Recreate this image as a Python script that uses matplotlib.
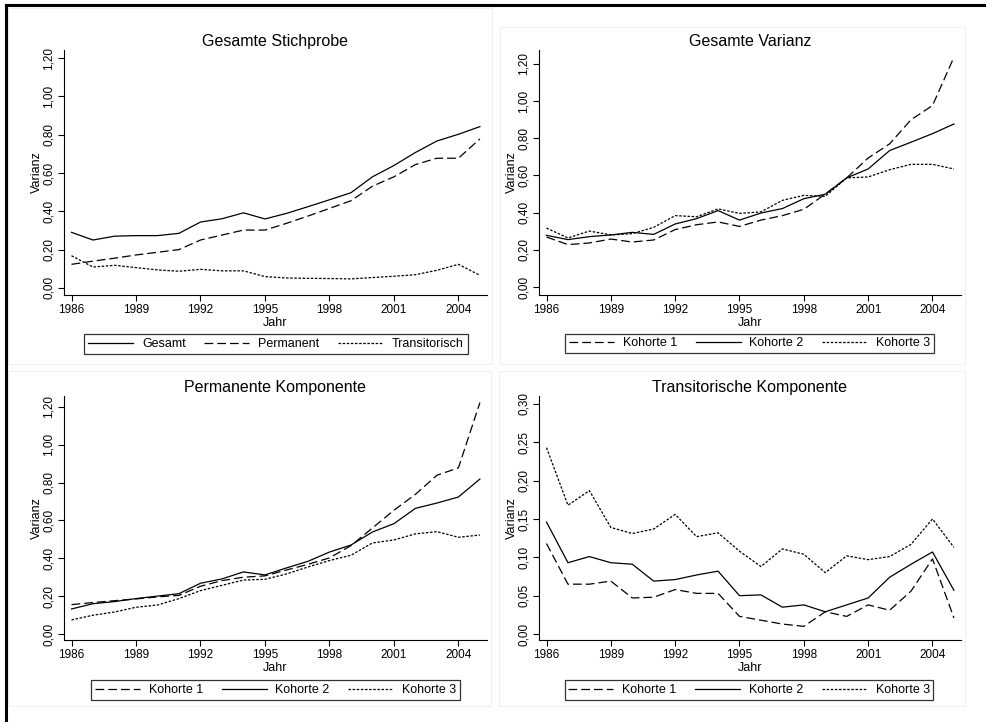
import matplotlib
matplotlib.use("Agg")
import matplotlib.pyplot as plt
from matplotlib.lines import Line2D
from matplotlib.patches import Rectangle
from matplotlib.ticker import FuncFormatter

plt.rcParams["font.family"] = ["Liberation Sans", "DejaVu Sans"]

W, H = 986, 722

years = list(range(1986, 2006))
year_ticks = [1986, 1989, 1992, 1995, 1998, 2001, 2004]

# Gesamte Stichprobe
gesamt = [0.290, 0.250, 0.270, 0.273, 0.273, 0.285, 0.344, 0.361, 0.392, 0.360,
          0.389, 0.424, 0.460, 0.497, 0.580, 0.639, 0.707, 0.767, 0.802, 0.842]
permanent = [0.123, 0.140, 0.155, 0.172, 0.186, 0.200, 0.250, 0.276, 0.302, 0.302,
             0.337, 0.375, 0.415, 0.455, 0.531, 0.580, 0.644, 0.677, 0.677, 0.778]
transitorisch = [0.168, 0.109, 0.118, 0.106, 0.094, 0.087, 0.097, 0.089, 0.089, 0.059,
                 0.052, 0.050, 0.049, 0.047, 0.054, 0.061, 0.069, 0.092, 0.123, 0.066]

# Gesamte Varianz nach Kohorte
var_k1 = [0.269, 0.228, 0.237, 0.258, 0.242, 0.253, 0.309, 0.335, 0.350, 0.326,
          0.360, 0.384, 0.418, 0.500, 0.587, 0.694, 0.770, 0.900, 0.976, 1.236]
var_k2 = [0.278, 0.255, 0.271, 0.280, 0.294, 0.283, 0.339, 0.368, 0.411, 0.360,
          0.398, 0.422, 0.475, 0.499, 0.587, 0.635, 0.734, 0.779, 0.825, 0.877]
var_k3 = [0.317, 0.264, 0.301, 0.280, 0.287, 0.321, 0.384, 0.378, 0.420, 0.396,
          0.404, 0.466, 0.493, 0.488, 0.587, 0.592, 0.631, 0.660, 0.660, 0.635]

# Permanente Komponente nach Kohorte
perm_k1 = [0.155, 0.166, 0.176, 0.185, 0.196, 0.204, 0.252, 0.282, 0.300, 0.307,
           0.338, 0.368, 0.402, 0.467, 0.560, 0.654, 0.738, 0.839, 0.878, 1.223]
perm_k2 = [0.132, 0.160, 0.171, 0.187, 0.200, 0.213, 0.268, 0.291, 0.328, 0.312,
           0.349, 0.384, 0.433, 0.470, 0.539, 0.583, 0.664, 0.692, 0.724, 0.819]
perm_k3 = [0.074, 0.099, 0.116, 0.141, 0.153, 0.187, 0.229, 0.257, 0.285, 0.289,
           0.317, 0.354, 0.388, 0.416, 0.481, 0.497, 0.529, 0.541, 0.511, 0.523]

# Transitorische Komponente nach Kohorte
trans_k1 = [0.118, 0.065, 0.065, 0.069, 0.047, 0.048, 0.058, 0.053, 0.053, 0.023,
            0.018, 0.013, 0.010, 0.029, 0.023, 0.038, 0.031, 0.056, 0.098, 0.021]
trans_k2 = [0.146, 0.093, 0.101, 0.093, 0.091, 0.069, 0.071, 0.077, 0.082, 0.050,
            0.051, 0.035, 0.038, 0.029, 0.038, 0.047, 0.074, 0.091, 0.107, 0.057]
trans_k3 = [0.243, 0.168, 0.187, 0.139, 0.131, 0.137, 0.156, 0.127, 0.132, 0.108,
            0.088, 0.111, 0.104, 0.080, 0.102, 0.097, 0.101, 0.117, 0.150, 0.113]

SOLID = "-"
DASHED = (0, (7, 3.2))
DOTTED = (0, (2, 1.3))


def px_axes(fig, left, top, right, bottom):
    return fig.add_axes([left / W, 1 - bottom / H, (right - left) / W, (bottom - top) / H])


def style_axes(ax, ylim, yticks, title):
    ax.set_xlim(1985.65, 2005.33)
    ax.set_ylim(*ylim)
    ax.set_xticks(year_ticks)
    ax.set_yticks(yticks)
    ax.yaxis.set_major_formatter(FuncFormatter(lambda v, _: f"{v:.2f}".replace(".", ",")))
    for side in ("top", "right"):
        ax.spines[side].set_visible(False)
    for side in ("left", "bottom"):
        ax.spines[side].set_linewidth(0.8)
    ax.tick_params(direction="out", length=4.5, width=0.8, labelsize=8.5, pad=2.0)
    for lab in ax.get_yticklabels():
        lab.set_rotation(90)
        lab.set_va("center")
    ax.set_xlabel("Jahr", fontsize=9, labelpad=0.5)
    ax.set_ylabel("Varianz", fontsize=9, labelpad=0)
    ax.set_title(title, fontsize=11.5, pad=3)


def add_legend(ax, fig, cx, cy):
    leg = ax.legend(
        loc="center",
        bbox_to_anchor=(cx / W, 1 - cy / H),
        bbox_transform=fig.transFigure,
        ncol=3,
        fontsize=9,
        handlelength=3.6,
        handletextpad=0.7,
        columnspacing=1.5,
        borderpad=0.3,
        fancybox=False,
        framealpha=1,
        edgecolor="#333333",
    )
    leg.get_frame().set_linewidth(0.9)


def main() -> None:
    fig = plt.figure(figsize=(W / 100, H / 100), dpi=100)

    # faint panel frames
    for (l, t, r, b) in [(8, 8, 492, 364), (500, 27, 965, 364), (8, 371, 491, 706), (499, 371, 965, 706)]:
        fig.add_artist(Rectangle((l / W, 1 - b / H), (r - l) / W, (b - t) / H,
                                 transform=fig.transFigure, fill=False,
                                 edgecolor="#f0f0f0", linewidth=0.8))

    lw = 0.9
    ticks_big = [0, 0.2, 0.4, 0.6, 0.8, 1.0, 1.2]

    ax1 = px_axes(fig, 64, 50, 487, 295)
    ax1.plot(years, gesamt, color="black", lw=lw, linestyle=SOLID, label="Gesamt")
    ax1.plot(years, permanent, color="black", lw=lw, linestyle=DASHED, label="Permanent")
    ax1.plot(years, transitorisch, color="black", lw=lw, linestyle=DOTTED, label="Transitorisch")
    style_axes(ax1, (-0.037, 1.242), ticks_big, "Gesamte Stichprobe")
    add_legend(ax1, fig, 276, 344)

    ax2 = px_axes(fig, 539, 50, 961, 295)
    ax2.plot(years, var_k1, color="black", lw=lw, linestyle=DASHED, label="Kohorte 1")
    ax2.plot(years, var_k2, color="black", lw=lw, linestyle=SOLID, label="Kohorte 2")
    ax2.plot(years, var_k3, color="black", lw=lw, linestyle=DOTTED, label="Kohorte 3")
    style_axes(ax2, (-0.043, 1.275), ticks_big, "Gesamte Varianz")
    add_legend(ax2, fig, 749.5, 343.5)

    ax3 = px_axes(fig, 64, 396, 487, 640)
    ax3.plot(years, perm_k1, color="black", lw=lw, linestyle=DASHED, label="Kohorte 1")
    ax3.plot(years, perm_k2, color="black", lw=lw, linestyle=SOLID, label="Kohorte 2")
    ax3.plot(years, perm_k3, color="black", lw=lw, linestyle=DOTTED, label="Kohorte 3")
    style_axes(ax3, (-0.032, 1.258), ticks_big, "Permanente Komponente")
    add_legend(ax3, fig, 275.5, 690)

    ax4 = px_axes(fig, 539, 396, 961, 640)
    ax4.plot(years, trans_k1, color="black", lw=lw, linestyle=DASHED, label="Kohorte 1")
    ax4.plot(years, trans_k2, color="black", lw=lw, linestyle=SOLID, label="Kohorte 2")
    ax4.plot(years, trans_k3, color="black", lw=lw, linestyle=DOTTED, label="Kohorte 3")
    style_axes(ax4, (-0.0078, 0.3104), [0, 0.05, 0.10, 0.15, 0.20, 0.25, 0.30],
               "Transitorische Komponente")
    add_legend(ax4, fig, 749, 690)

    # outer frame (left and top edges visible in the reference)
    fig.add_artist(Line2D([6 / W, 6 / W], [0, 1 - 5 / H], transform=fig.transFigure,
                          color="black", linewidth=2.2))
    fig.add_artist(Line2D([6 / W, 1], [1 - 5 / H, 1 - 5 / H], transform=fig.transFigure,
                          color="black", linewidth=2.2))

    fig.savefig("out.png", dpi=100)
    plt.close(fig)


if __name__ == "__main__":
    main()
